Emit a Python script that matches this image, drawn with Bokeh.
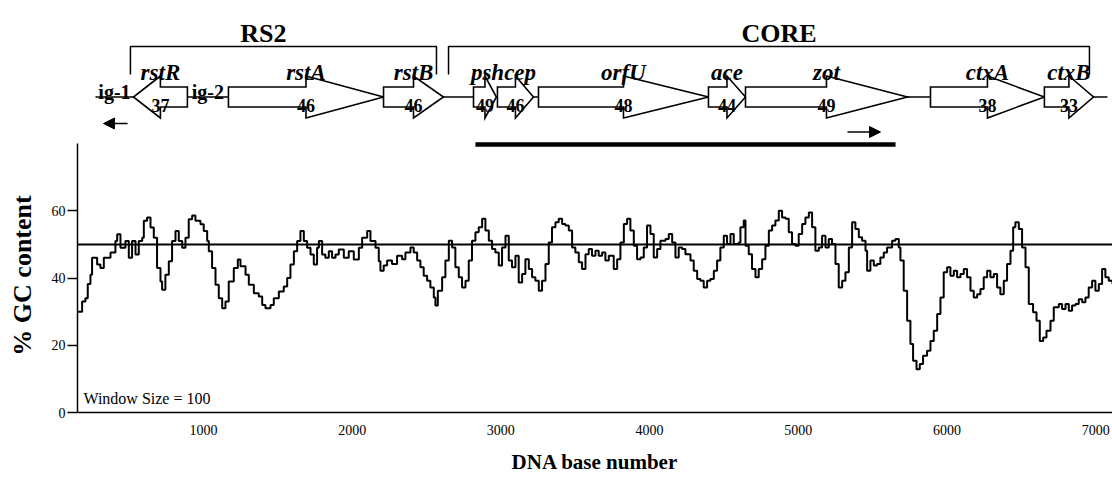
from bokeh.plotting import figure
from bokeh.layouts import column
from bokeh.models import Range1d, FixedTicker, Span, Label, Arrow, NormalHead
from bokeh.core.properties import value
from bokeh.embed import file_html
from bokeh.resources import INLINE

# ---------------- data ----------------
# % GC content, sliding window of 100 bases
gc_pos = [150, 184, 206, 222, 240, 251, 285, 307, 330, 375, 408, 420, 442, 475, 498, 520, 543, 565, 588, 599,
          621, 644, 666, 688, 711, 722, 744, 767, 789, 812, 834, 857, 879, 901, 924, 946, 980, 1002, 1025, 1036,
          1058, 1081, 1103, 1126, 1148, 1170, 1204, 1231, 1249, 1283, 1305, 1339, 1372, 1395, 1417, 1451, 1473,
          1507, 1540, 1563, 1585, 1608, 1630, 1652, 1675, 1697, 1720, 1742, 1764, 1776, 1798, 1820, 1843, 1865,
          1888, 1910, 1944, 1977, 2011, 2045, 2067, 2101, 2123, 2157, 2179,
          2190, 2212, 2235, 2268, 2302, 2336, 2358, 2392, 2414, 2437, 2459, 2481, 2504, 2526, 2549, 2560, 2576,
          2605, 2627, 2650, 2672, 2694, 2717, 2739, 2762, 2784, 2806, 2829, 2851, 2874, 2896, 2919, 2941, 2963,
          2986, 3008, 3031, 3053, 3075, 3098, 3120, 3143, 3165, 3188, 3210, 3232, 3255, 3277, 3300, 3322, 3344,
          3367, 3389, 3412, 3434, 3457, 3479, 3501, 3524, 3546, 3569, 3591, 3613, 3636, 3658, 3681, 3703, 3726,
          3759, 3782, 3804, 3827, 3849, 3871, 3894, 3916, 3939, 3961, 3983, 4006, 4028, 4051, 4073, 4107, 4129,
          4152, 4174, 4196, 4219, 4241, 4275, 4297, 4320, 4342, 4364, 4387, 4409, 4432, 4454, 4476, 4499, 4521,
          4544, 4566, 4600,
          4611, 4633, 4645, 4667, 4689, 4712, 4734, 4757, 4779, 4802, 4824, 4846, 4869, 4891, 4914, 4936, 4958,
          4981, 5003, 5026, 5048, 5071, 5093, 5115, 5138, 5160, 5183, 5205, 5227, 5250, 5272, 5295, 5317, 5340,
          5362, 5384, 5407, 5429, 5452, 5463, 5485, 5508, 5530, 5552, 5575, 5597, 5631, 5653, 5676, 5687, 5709,
          5732, 5754, 5772, 5795, 5817, 5839, 5866, 5889, 5911, 5934, 5956, 5978, 6001, 6023, 6046, 6068, 6091,
          6113, 6135, 6158, 6180, 6203, 6225, 6247, 6270, 6292, 6315, 6337, 6359, 6382, 6404, 6427, 6445, 6460,
          6483, 6505, 6528, 6550, 6579, 6602, 6624, 6647, 6669, 6696, 6718, 6752, 6774, 6797, 6819, 6841, 6864,
          6886, 6909, 6931, 6953, 6976, 6998, 7021, 7043, 7065, 7088, 7113]
gc_pct = [30, 33, 34, 38.2, 41, 46, 44, 43, 46, 47.6, 51, 53, 49, 51, 46, 51, 47, 51, 52, 57,
          58, 55, 52, 43, 39, 36.5, 41, 45, 51, 54, 51, 49, 52, 57.5, 58.6, 57, 56, 54, 51, 48,
          43, 38, 34, 31, 33, 39, 43, 45.5, 43.5, 41, 38, 35.5, 34.5, 32, 31, 32, 34,
          36, 37.5, 40, 44, 48, 51, 54, 51, 49, 47, 44, 49, 51, 47, 46, 48, 46,
          47, 48.5, 46, 48, 45.5, 49, 52, 54, 51, 49, 45,
          42.2, 43.7, 45.2, 44.2, 46.6, 45.6, 47.6, 49.1, 47.6, 45.2, 43.2, 40.7, 39.2, 37.2, 34.2, 31.8, 36.2,
          40.2, 45.2, 51.1, 49.1, 43.2, 40.2, 37.2, 39.2, 45.2, 51.1, 53.6, 55.1, 57.6, 54.1, 51.1, 48.6, 47.6,
          43.7, 49.1, 52.6, 45.2, 43.2, 46.6, 38.7, 41.2, 45.6, 42.7, 40.2, 39.2, 36.2, 39.2, 44.2, 50.6, 55.1,
          56.6, 57.6, 56.1, 55.6, 54.1, 49.1, 47.6, 44.7, 42.7, 47.1, 48.6, 46.6, 48.1, 46.6, 47.6, 45.2, 46.6,
          42.7, 45.6, 50.6, 56.1, 57.6, 54.1, 49.6, 45.6, 46.1, 49.1, 55.6, 53.1, 46.1, 48.6, 51.1, 51.6, 53.1,
          50.6, 46.1, 49.1, 48.6, 47.1, 45.2, 42.2, 39.7, 39.2, 37.2, 39.2, 39.7, 42.2, 45.2, 49.1, 52.6, 50.1,
          53.1, 50.1, 50.6,
          55.1, 57.1, 49.6, 47.1, 42.7, 40.2, 42.7, 45.6, 49.6, 54.1, 55.6, 57.1, 60.0, 58.0, 57.6, 53.6, 50.1,
          49.6, 53.1, 56.1, 58.0, 59.5, 55.1, 48.1, 49.1, 52.6, 49.1, 51.6, 50.1, 44.2, 37.2, 39.2, 41.7, 49.1,
          56.6, 54.6, 52.1, 51.1, 48.1, 42.2, 45.2, 43.7, 44.2, 46.1, 47.6, 49.1, 51.1, 51.6, 49.1, 45.2, 36.2,
          27.3, 20.4, 15.4, 12.9, 14.4, 16.9, 18.4, 21.3, 24.3, 29.3, 34.2, 41.7, 43.2, 40.7, 42.2, 40.2, 41.2,
          42.7, 40.2, 36.2, 34.2, 35.2, 36.7, 40.2, 42.2, 40.2, 41.2, 37.2, 35.2, 39.2, 44.2, 48.1, 55.1, 56.6,
          54.6, 49.1, 43.2, 32.3, 29.8, 27.3, 21.3, 22.3, 24.3, 27.3, 31.3, 32.3, 30.8, 32.3, 30.3, 31.8, 32.3,
          33.7, 32.8, 34.2, 37.2, 39.2, 36.2, 38.2, 42.7, 40.2, 39.2, 38.2]

# genes of the element (positions in bases)
gene_names = ["rstR", "rstA", "rstB", "psh", "cep", "orfU", "ace", "zot", "ctxA", "ctxB"]
gene_start = [529, 1168, 2211, 2816, 2977, 3253, 4396, 4645, 5889, 6655]
gene_end = [892, 2211, 2614, 2970, 3219, 4396, 4645, 5734, 6655, 6985]
gene_strand = [-1, 1, 1, 1, 1, 1, 1, 1, 1, 1]
gene_gc = [37, 46, 46, 49, 46, 48, 44, 49, 38, 33]
label_groups = [["rstR"], ["rstA"], ["rstB"], ["psh", "cep"], ["orfU"], ["ace"], ["zot"], ["ctxA"], ["ctxB"]]

ig_names = ["ig-1", "ig-2"]
ig_start = [274, 892]
ig_end = [529, 1168]

region_names = ["RS2", "CORE"]
region_start = [509, 2648]
region_end = [2567, 6958]

locus_start, locus_end = 274, 7079
bar_start, bar_end = 2829, 5654
arrow_left = (490, 328)
arrow_right = (5331, 5553)

y_ticks = [0, 20, 40, 60]
x_ticks = [1000, 2000, 3000, 4000, 5000, 6000, 7000]
mean_gc = 50
window = 100

# ---------------- layout ----------------
FONT = "Liberation Serif"
W = 1112
BL = 77
X0, X1 = 153, 7113
MAP_H = 138                      # map panel height (px)
GC_TOP = 81.5                    # gc frame spans 0..81.5 %
GC_FRAME_H = 412 - MAP_H
GC_H = 478 - MAP_H
PX_PER_UNIT = GC_FRAME_H / GC_TOP

xr = Range1d(X0, X1)

# ---- gene map panel ----
m = figure(width=W, height=MAP_H, x_range=xr, y_range=Range1d(MAP_H, 0),
           x_axis_type=None, y_axis_type=None, output_backend="svg", toolbar_location=None,
           min_border_left=BL, min_border_right=0, min_border_top=0, min_border_bottom=0)
m.grid.visible = False
m.outline_line_color = None

LINE_Y = 96.5
BODY, HEAD = 10, 21
m.line([locus_start, locus_end], [LINE_Y, LINE_Y], line_color="black", line_width=1.6)

xs, ys = [], []
for s, e, d in zip(gene_start, gene_end, gene_strand):
    mid = (s + e) / 2
    a, b = (s, e) if d > 0 else (e, s)
    xs.append([a, mid, mid, b, mid, mid, a])
    ys.append([LINE_Y - BODY, LINE_Y - BODY, LINE_Y - HEAD, LINE_Y, LINE_Y + HEAD, LINE_Y + BODY, LINE_Y + BODY])
m.patches(xs, ys, fill_color="white", line_color="black", line_width=1.6, line_join="miter")

mids = [(s + e) / 2 for s, e in zip(gene_start, gene_end)]
m.text(mids, [LINE_Y + 8.5] * len(mids), text=[str(g) for g in gene_gc],
       text_font=value(FONT), text_font_size="18px", text_font_style="bold",
       text_align="center", text_baseline="alphabetic", text_color="black")

lab_x, lab_t = [], []
for grp in label_groups:
    idx = [gene_names.index(g) for g in grp]
    lab_x.append((min(gene_start[i] for i in idx) + max(gene_end[i] for i in idx)) / 2)
    lab_t.append("".join(grp))
m.text(lab_x, [72] * len(lab_x), text=lab_t,
       text_font=value(FONT), text_font_size="23px", text_font_style="bold italic",
       text_align="center", text_baseline="alphabetic", text_color="black")

m.text([(s + e) / 2 for s, e in zip(ig_start, ig_end)], [91] * len(ig_names), text=ig_names,
       text_font=value(FONT), text_font_size="20px", text_font_style="bold",
       text_align="center", text_baseline="alphabetic", text_color="black")

TOP_Y, DROP_Y = 46, 74
m.multi_line([[s, s, e, e] for s, e in zip(region_start, region_end)],
             [[DROP_Y, TOP_Y, TOP_Y, DROP_Y] for _ in region_names],
             line_color="black", line_width=1.5)
m.text([(s + e) / 2 for s, e in zip(region_start, region_end)], [33] * len(region_names),
       text=region_names, x_offset=[-20, 10], text_font=value(FONT), text_font_size="26px",
       text_font_style="bold", text_align="center", text_baseline="alphabetic", text_color="black")

for (xa, xb), yy in ((arrow_left, 123), (arrow_right, 131.5)):
    m.add_layout(Arrow(x_start=xa, y_start=yy, x_end=xb, y_end=yy,
                       line_color="black", line_width=1.5,
                       end=NormalHead(size=11, line_color="black", fill_color="black")))

# ---- GC content panel ----
p = figure(width=W, height=GC_H, x_range=xr, y_range=Range1d(0, GC_TOP),
           output_backend="svg", toolbar_location=None,
           min_border_left=BL, min_border_right=0, min_border_top=0, min_border_bottom=GC_H - GC_FRAME_H)
p.grid.visible = False
p.outline_line_color = None

p.yaxis.ticker = FixedTicker(ticks=y_ticks)
p.yaxis.bounds = (0, 80)
p.yaxis.major_tick_out = 10
p.yaxis.major_tick_in = 0
p.yaxis.major_label_standoff = 2
p.yaxis.axis_label = "% GC content"
p.yaxis.axis_label_standoff = 12
p.yaxis.axis_label_text_font_size = "26px"
p.xaxis.ticker = FixedTicker(ticks=x_ticks)
p.xaxis.major_tick_out = 0
p.xaxis.major_tick_in = 0
p.xaxis.major_label_standoff = 12
p.xaxis.axis_label = "DNA base number"
p.xaxis.axis_label_standoff = 12
p.xaxis.axis_label_text_font_size = "21px"
for ax in (p.xaxis, p.yaxis):
    ax.minor_tick_out = 0
    ax.minor_tick_in = 0
    ax.axis_line_width = 1.5
    ax.axis_line_color = "black"
    ax.major_tick_line_width = 1.5
    ax.major_tick_line_color = "black"
    ax.major_label_text_font = FONT
    ax.major_label_text_font_size = "14px"
    ax.major_label_text_color = "black"
    ax.axis_label_text_font = FONT
    ax.axis_label_text_font_style = "bold"
    ax.axis_label_text_color = "black"

p.step(gc_pos, gc_pct, mode="after", line_color="black", line_width=2)
p.add_layout(Span(location=mean_gc, dimension="width", line_color="black", line_width=2))

# probe bar just above the plot
bar_y = (412 - 144) / PX_PER_UNIT
p.line([bar_start, bar_end], [bar_y, bar_y], line_color="black", line_width=4.5)

p.add_layout(Label(x=193, y=4.1, text=f"Window Size = {window}", text_font=FONT,
                   text_font_size="16px", text_color="black", text_baseline="alphabetic"))

layout = column(m, p, spacing=0)
open("out.html", "w").write(file_html(layout, INLINE))
